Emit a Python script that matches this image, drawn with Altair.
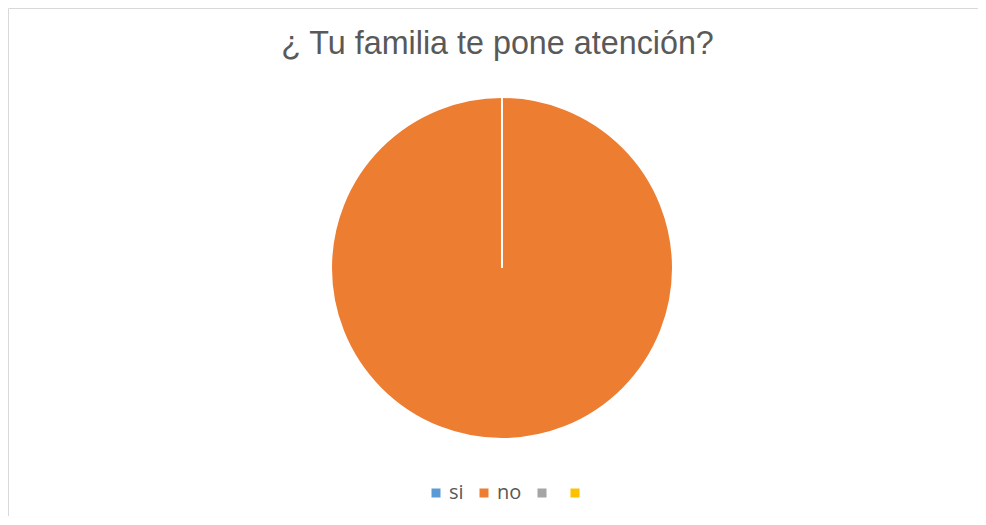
import altair as alt
import pandas as pd

# ---- data ----
categories = ["si", "no", "c3", "c4"]
values = [0, 100, 0, 0]
colors = ["#5B9BD5", "#ED7D31", "#A5A5A5", "#FFC000"]
order_idx = [0, 1, 2, 3]
title_text = "¿ Tu familia te pone atención?"

df = pd.DataFrame({"cat": categories, "val": values, "ord": order_idx})
title_df = pd.DataFrame({"t": [title_text]})
border_df = pd.DataFrame({"k": [0]})

W, H = 970, 508

pie = alt.Chart(df).mark_arc(
    outerRadius=171, stroke="white", strokeWidth=2
).encode(
    theta=alt.Theta("val:Q", stack=True),
    color=alt.Color(
        "cat:N",
        scale=alt.Scale(domain=categories, range=colors),
        sort=categories,
        legend=alt.Legend(
            title=None,
            orient="none",
            legendX=418,
            legendY=475,
            direction="horizontal",
            gridAlign="none",
            symbolType="square",
            symbolSize=81,
            symbolStrokeWidth=0,
            labelFont="Open Sans",
            labelFontSize=20,
            labelColor="#595959",
            labelOffset=3,
            columnPadding=10,
            padding=0,
            labelExpr="(datum.label == 'c3' || datum.label == 'c4') ? '' : datum.label",
        ),
    ),
    order=alt.Order("ord:Q"),
    x=alt.value(494),
    y=alt.value(260),
)

title = alt.Chart(title_df).mark_text(
    font="Liberation Sans", fontSize=32.3, color="#595959",
    baseline="alphabetic", align="center"
).encode(text="t:N", x=alt.value(489.5), y=alt.value(46))

# chart frame: only left and top edges fall inside the picture
frame = alt.Chart(border_df).mark_rect(
    fillOpacity=0, stroke="#D9D9D9", strokeWidth=1, clip=True
).encode(
    x=alt.value(0.5), x2=alt.value(W + 40),
    y=alt.value(0.5), y2=alt.value(H + 40),
)

chart = alt.layer(frame, pie, title).properties(
    width=W, height=H, padding=0
).configure_view(stroke="transparent", strokeWidth=0)

chart.save("out.html", embed_options={"renderer": "svg", "actions": False})
